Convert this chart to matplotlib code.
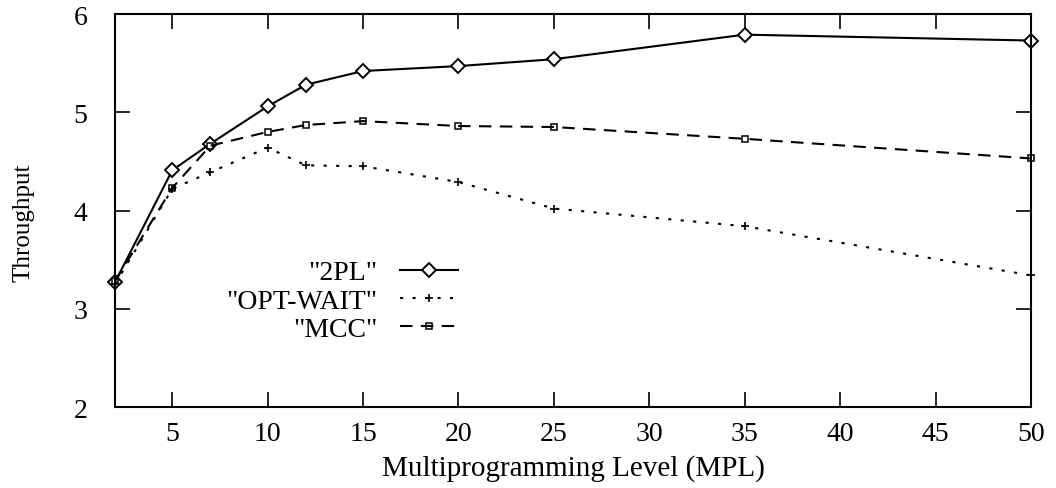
import matplotlib.pyplot as plt

# throughput vs multiprogramming level for three concurrency control schemes
mpl = [2, 5, 7, 10, 12, 15, 20, 25, 35, 50]
tp_2pl = [3.27, 4.41, 4.68, 5.06, 5.28, 5.42, 5.47, 5.54, 5.79, 5.73]
tp_opt_wait = [3.25, 4.22, 4.39, 4.64, 4.46, 4.45, 4.29, 4.02, 3.84, 3.34]
tp_mcc = [3.28, 4.23, 4.66, 4.80, 4.87, 4.91, 4.86, 4.85, 4.73, 4.53]

xticks = [5, 10, 15, 20, 25, 30, 35, 40, 45, 50]
yticks = [2, 3, 4, 5, 6]

plt.rcParams['font.family'] = ['Liberation Serif', 'DejaVu Serif']

fig = plt.figure(figsize=(10.56, 4.89), dpi=100)
ax = fig.add_axes([0.1089, 0.1656, 0.8674, 0.8037])

ax.plot(mpl, tp_2pl, color='black', lw=1.5, marker='D', ms=7,
        mfc='white', mec='black', mew=1.4, label='"2PL"', clip_on=False)
ax.plot(mpl, tp_opt_wait, color='black', lw=1.5, dashes=(1.5, 4.5),
        marker='+', ms=6, mew=1.2, label='"OPT-WAIT"', clip_on=False)
ax.plot(mpl, tp_mcc, color='black', lw=1.5, dashes=(6, 4),
        marker='s', ms=5, mfc='none', mec='black', mew=1.1,
        label='"MCC"', clip_on=False)

ax.set_xlim(2, 50)
ax.set_ylim(2, 6)
ax.set_xticks(xticks)
ax.set_yticks(yticks)
ax.tick_params(direction='in', length=11, width=1.2, top=True, right=True,
               labelsize=20)
ax.tick_params(axis='x', pad=10)
ax.tick_params(axis='y', pad=20)
for s in ax.spines.values():
    s.set_linewidth(1.5)

ax.set_xlabel('Multiprogramming Level (MPL)', fontsize=21, labelpad=6)
ax.set_ylabel('Throughput', fontsize=18)
ax.yaxis.set_label_coords(-0.088, 0.47)

ax.legend(loc='center right', bbox_to_anchor=(0.39, 0.27), frameon=False,
          markerfirst=False, fontsize=20, handlelength=2.1,
          handletextpad=0.8, labelspacing=0.1, borderpad=0, numpoints=1)

fig.savefig('out.png', dpi=100)
